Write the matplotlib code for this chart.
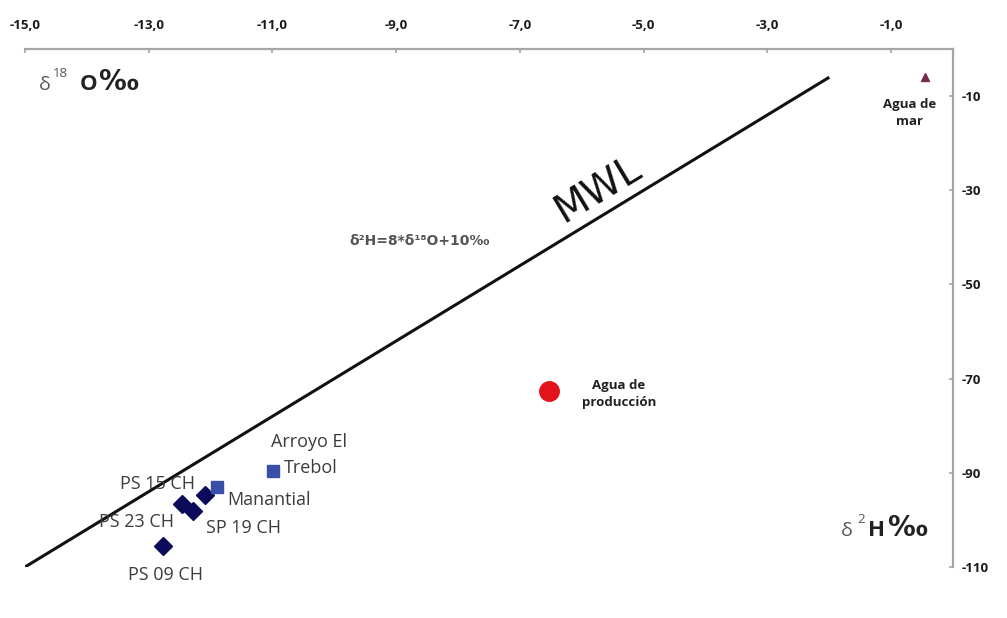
import matplotlib
matplotlib.use("Agg")
import matplotlib.pyplot as plt

plt.rcParams['font.family'] = ['Open Sans', 'DejaVu Sans']

# ---- data ----
x_ticks = [-15, -13, -11, -9, -7, -5, -3, -1]
x_tick_labels = ["-15,0", "-13,0", "-11,0", "-9,0", "-7,0", "-5,0", "-3,0", "-1,0"]
y_ticks = [-10, -30, -50, -70, -90, -110]
y_tick_labels = ["-10", "-30", "-50", "-70", "-90", "-110"]

mwl_x = [-15.0, -2.0]
mwl_slope = 8.0
mwl_intercept = 10.0

well_names = ["PS 15 CH", "PS 23 CH", "SP 19 CH", "PS 09 CH"]
well_d18O = [-12.46, -12.28, -12.09, -12.77]
well_d2H = [-96.6, -98.1, -94.7, -105.5]

spring_names = ["Manantial", "Arroyo El Trebol"]
spring_d18O = [-11.90, -10.99]
spring_d2H = [-93.0, -89.6]

prod_d18O = [-6.53]
prod_d2H = [-72.7]

sea_d18O = [-0.46]
sea_d2H = [-5.9]

# ---- figure ----
fig = plt.figure(figsize=(10.07, 6.18), dpi=100)
W, H = 1007, 618
ax = fig.add_axes([25 / W, 1 - 567 / H, (953 - 25) / W, (567 - 49) / H])
ax.set_xlim(-15, 0)
ax.set_ylim(-110, 0)

for s in ['left', 'bottom']:
    ax.spines[s].set_visible(False)
for s in ['top', 'right']:
    ax.spines[s].set_color('#a6a6a6')
    ax.spines[s].set_linewidth(1.6)

ax.xaxis.tick_top()
ax.yaxis.tick_right()
ax.set_xticks(x_ticks)
ax.set_xticklabels(x_tick_labels)
ax.set_yticks(y_ticks)
ax.set_yticklabels(y_tick_labels)
ax.tick_params(axis='x', direction='in', length=3, width=1.2, color='#a6a6a6',
               pad=12, labelsize=9.5, labelcolor='#1a1a1a')
ax.tick_params(axis='y', direction='in', length=3, width=1.2, color='#a6a6a6',
               pad=6, labelsize=9.5, labelcolor='#1a1a1a')
for lab in ax.get_xticklabels() + ax.get_yticklabels():
    lab.set_fontweight('bold')

# MWL
mwl_y = [mwl_slope * v + mwl_intercept for v in mwl_x]
ax.plot(mwl_x, mwl_y, color='#111111', lw=2.2, solid_capstyle='butt', zorder=2)

# points
ax.plot(well_d18O, well_d2H, 'D', color='#0b0b5a', markersize=9.5, ls='none', zorder=3)
ax.plot(spring_d18O, spring_d2H, 's', color='#3a4fa8', markersize=9, ls='none', zorder=3)
ax.plot(prod_d18O, prod_d2H, 'o', color='#e3131b', markersize=14, ls='none', zorder=3)
ax.plot(sea_d18O, sea_d2H, '^', color='#7a2a52', markersize=6, ls='none', zorder=3)

lab_kw = dict(textcoords='offset pixels', fontsize=13, color='#3c3c3c',
              ha='center', va='center')
well_offsets = [(-25, 20), (-57, -11), (38, -33), (3, -29)]
for n, x, y, off in zip(well_names, well_d18O, well_d2H, well_offsets):
    ax.annotate(n, (x, y), xytext=off, **lab_kw)

ax.annotate(spring_names[0], (spring_d18O[0], spring_d2H[0]), xytext=(10, -13),
            textcoords='offset pixels', fontsize=13, color='#3c3c3c', ha='left', va='center')
ax.annotate("Arroyo El", (spring_d18O[1], spring_d2H[1]), xytext=(-2, 29),
            textcoords='offset pixels', fontsize=13, color='#3c3c3c', ha='left', va='center')
ax.annotate("Trebol", (spring_d18O[1], spring_d2H[1]), xytext=(11, 3),
            textcoords='offset pixels', fontsize=13, color='#3c3c3c', ha='left', va='center')

ax.annotate("Agua de\nproducción", (prod_d18O[0], prod_d2H[0]), xytext=(70, -3),
            textcoords='offset pixels', fontsize=9.5, fontweight='bold', color='#222222',
            ha='center', va='center', linespacing=1.4)
ax.annotate("Agua de\nmar", (sea_d18O[0], sea_d2H[0]), xytext=(-15, -36),
            textcoords='offset pixels', fontsize=9.5, fontweight='bold', color='#222222',
            ha='center', va='center', linespacing=1.4)

# line labels
ax.text(-5.74, -29.9, "MWL", rotation=31, fontsize=28, color='#111111',
        family=['Liberation Sans Narrow', 'DejaVu Sans'], ha='center', va='center')
ax.text(-8.62, -40.7, "δ²H=8*δ¹⁸O+10‰", fontsize=10, fontweight='bold', color='#555555',
        ha='center', va='center', family=['DejaVu Sans'])

# axis titles
fig.text(39 / W, 1 - 90 / H, "δ", fontsize=14, color='#555555', va='baseline', ha='left')
fig.text(53 / W, 1 - 77 / H, "18", fontsize=9.5, color='#555555', va='baseline', ha='left')
fig.text(80 / W, 1 - 90 / H, "O", fontsize=16, fontweight='bold', color='#222222',
         va='baseline', ha='left')
fig.text(98 / W, 1 - 90 / H, "‰", fontsize=20, fontweight='bold', color='#222222',
         va='baseline', ha='left', family=['DejaVu Sans'])

fig.text(841 / W, 1 - 536 / H, "δ", fontsize=14, color='#555555', va='baseline', ha='left')
fig.text(857 / W, 1 - 523 / H, "2", fontsize=9.5, color='#555555', va='baseline', ha='left')
fig.text(868 / W, 1 - 536 / H, "H", fontsize=16, fontweight='bold', color='#222222',
         va='baseline', ha='left')
fig.text(887 / W, 1 - 536 / H, "‰", fontsize=20, fontweight='bold', color='#222222',
         va='baseline', ha='left', family=['DejaVu Sans'])

fig.savefig("out.png", dpi=100, facecolor='white')
